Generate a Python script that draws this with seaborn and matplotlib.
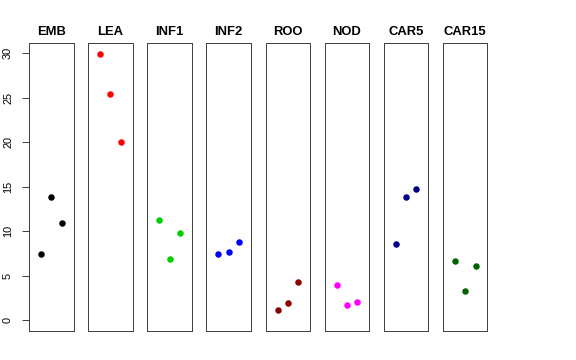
import numpy as np
import pandas as pd
import matplotlib
matplotlib.use('Agg')
import matplotlib.pyplot as plt
import seaborn as sns

sns.set_style('white')
plt.rcParams['font.family'] = ['Liberation Sans', 'DejaVu Sans']
plt.rcParams['text.color'] = 'black'
plt.rcParams['ytick.color'] = 'black'

# --- Data --------------------------------------------------------------------
tissues = ['EMB', 'LEA', 'INF1', 'INF2', 'ROO', 'NOD', 'CAR5', 'CAR15']
colors  = ['#000000', '#FF0000', '#00CD00', '#0000FF',
           '#8B0000', '#FF00FF', '#00008B', '#006400']
reps    = [1, 2, 3]
emb   = [7.5, 13.9, 10.9]
lea   = [29.9, 25.4, 20.0]
inf1  = [11.3, 6.9, 9.8]
inf2  = [7.4, 7.7, 8.8]
roo   = [1.2, 2.0, 4.3]
nod   = [4.0, 1.7, 2.1]
car5  = [8.6, 13.9, 14.7]
car15 = [6.7, 3.3, 6.1]
values = [emb, lea, inf1, inf2, roo, nod, car5, car15]

df = pd.DataFrame({
    'tissue': np.repeat(tissues, len(reps)),
    'rep': reps * len(tissues),
    'value': np.concatenate(values),
})

# R-style 4% axis padding
ymax = df['value'].max()
ylim = (0 - 0.04 * ymax, ymax * 1.04)
xlim = (0 - 0.04 * 4, 4 * 1.04)

# --- Figure ------------------------------------------------------------------
W, H = 576, 360
fig = plt.figure(figsize=(W / 72, H / 72), dpi=72)

left0, step, pw = 29, 59.14, 44.5
top, bottom = 43.3, 331

for i, (t, c) in enumerate(zip(tissues, colors)):
    ax = fig.add_axes([(left0 + i * step) / W, (H - bottom) / H,
                       pw / W, (bottom - top) / H])
    sub = df[df['tissue'] == t]
    sns.scatterplot(data=sub, x='rep', y='value', color=c, s=42,
                    linewidth=0, ax=ax, legend=False)
    ax.set_xlim(xlim)
    ax.set_ylim(ylim)
    ax.set_xlabel('')
    ax.set_ylabel('')
    ax.set_xticks([])
    ax.set_title(t, fontsize=13, fontweight='bold', pad=8, color='black')
    for sp in ax.spines.values():
        sp.set_visible(True)
        sp.set_color('#444444')
        sp.set_linewidth(1)
    if i == 0:
        ax.set_yticks([0, 5, 10, 15, 20, 25, 30])
        ax.tick_params(axis='y', left=True, length=7, width=1,
                       color='#444444', labelcolor='black',
                       labelsize=11, pad=9)
        for lab in ax.get_yticklabels():
            lab.set_rotation(90)
            lab.set_va('center')
    else:
        ax.set_yticks([])

plt.savefig('out.png', dpi=72)
